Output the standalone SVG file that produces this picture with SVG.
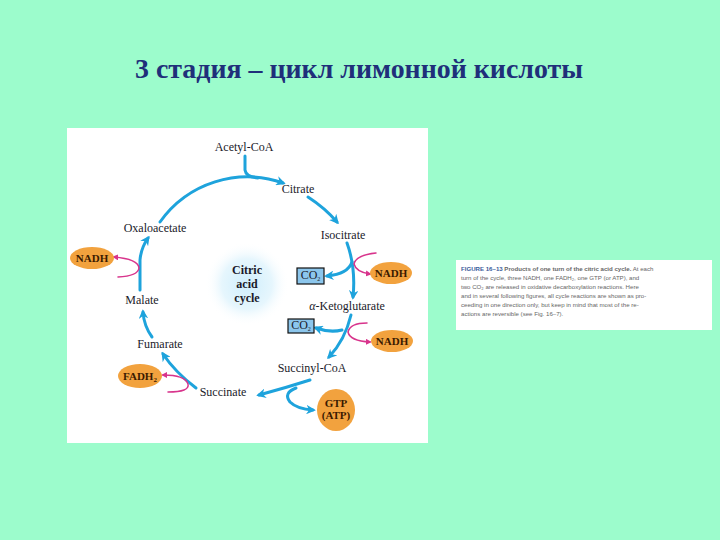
<svg xmlns="http://www.w3.org/2000/svg" width="720" height="540" viewBox="0 0 720 540">
<style>
.title{font-family:"Liberation Serif","Times New Roman",serif;font-size:27px;font-weight:bold;fill:#1f2f7a;text-anchor:middle}
.lbl{font-family:"Liberation Serif","Times New Roman",serif;font-size:12px;fill:#1a1a2a;text-anchor:middle}
.bold{font-weight:bold}
.ov{font-family:"Liberation Serif","Times New Roman",serif;font-size:11px;font-weight:bold;fill:#3a1a00;text-anchor:middle}
.cap{font-family:"Liberation Sans",Arial,sans-serif;font-size:6.1px;fill:#666}
.blue{fill:none;stroke:#1ea3dc;stroke-width:3;stroke-linecap:round;marker-end:url(#ab)}
.bluel{fill:none;stroke:#1ea3dc;stroke-width:3;stroke-linecap:round}
.pink{fill:none;stroke:#d8348c;stroke-width:1.5;stroke-linecap:round;marker-end:url(#ap)}
.orange{fill:#f2a23e}
.co2{fill:#8cc6ec;stroke:#111;stroke-width:1.2}
</style>
<defs>
<marker id="ab" viewBox="0 0 10 10" refX="7" refY="5" markerWidth="3.2" markerHeight="3.2" orient="auto" markerUnits="strokeWidth">
<path d="M0,0 L10,5 L0,10 L3,5 Z" fill="#1ea3dc"/>
</marker>
<marker id="ap" viewBox="0 0 10 10" refX="7" refY="5" markerWidth="4" markerHeight="4" orient="auto" markerUnits="strokeWidth">
<path d="M0,0 L10,5 L0,10 Z" fill="#d8348c"/>
</marker>
<radialGradient id="glow">
<stop offset="0" stop-color="#cfeefc"/>
<stop offset="0.6" stop-color="#e6f6fd"/>
<stop offset="1" stop-color="#ffffff" stop-opacity="0"/>
</radialGradient>
</defs>
<rect width="720" height="540" fill="#9cfccc"/>
<text class="title" x="359" y="78" textLength="448" lengthAdjust="spacingAndGlyphs">3 стадия – цикл лимонной кислоты</text>
<rect x="67" y="128" width="361" height="315" fill="#ffffff"/>
<g id="caption">
<rect x="456" y="260" width="256" height="70" fill="#ffffff"/>
<text class="cap" x="461" y="271"><tspan font-weight="bold" fill="#3a5a9a">FIGURE 16–13</tspan><tspan font-weight="bold"> Products of one turn of the citric acid cycle.</tspan> At each</text>
<text class="cap" x="461" y="280">turn of the cycle, three NADH, one FADH₂, one GTP (or ATP), and</text>
<text class="cap" x="461" y="289">two CO₂ are released in oxidative decarboxylation reactions. Here</text>
<text class="cap" x="461" y="298">and in several following figures, all cycle reactions are shown as pro-</text>
<text class="cap" x="461" y="307">ceeding in one direction only, but keep in mind that most of the re-</text>
<text class="cap" x="461" y="316">actions are reversible (see Fig. 16–7).</text>
</g>
<circle cx="247" cy="284" r="42" fill="url(#glow)"/>
<g id="connectors">
<path class="blue" d="M160,222 A107,107 0 0 1 283,183"/>
<path class="bluel" d="M245,156 L245,170 Q246,177 258,178"/>
<path class="blue" d="M308,197 Q325,208 337,222"/>
<path class="blue" d="M347,243 Q356,268 353,297"/>
<path class="blue" d="M352,262 Q348,274 327,276"/>
<path class="pink" d="M376,253 Q356,255 354,264 Q356,272 370,274"/>
<path class="blue" d="M351,315 Q345,340 329,357"/>
<path class="blue" d="M342,330 Q330,333 316,328"/>
<path class="pink" d="M367,323 Q350,323 348,332 Q350,341 370,342"/>
<path class="blue" d="M310,380 Q285,388 259,395"/>
<path class="blue" d="M296,388 Q283,393 290,402 Q297,409 313,410"/>
<path class="blue" d="M196,388 Q175,372 163,354"/>
<path class="pink" d="M168,392 Q190,392 188,384 Q185,375 163,375"/>
<path class="blue" d="M152,337 Q144,326 143,312"/>
<path class="blue" d="M140,290 L140,260 Q141,248 148,238"/>
<path class="pink" d="M118,277 Q138,276 139,268 Q138,259 114,257"/>
</g>
<g id="acetylcoa"><text class="lbl" x="244" y="151">Acetyl-CoA</text></g>
<g id="citrate"><text class="lbl" x="298" y="193">Citrate</text></g>
<g id="isocitrate"><text class="lbl" x="343" y="239">Isocitrate</text></g>
<g id="oxaloacetate"><text class="lbl" x="155" y="232">Oxaloacetate</text></g>
<g id="ketoglutarate"><text class="lbl" x="347" y="310"><tspan font-style="italic">α</tspan>-Ketoglutarate</text></g>
<g id="succinylcoa"><text class="lbl" x="312" y="372">Succinyl-CoA</text></g>
<g id="succinate"><text class="lbl" x="223" y="396">Succinate</text></g>
<g id="fumarate"><text class="lbl" x="160" y="348">Fumarate</text></g>
<g id="malate"><text class="lbl" x="142" y="304">Malate</text></g>
<g id="center">
<text class="lbl bold" x="247" y="274">Citric</text>
<text class="lbl bold" x="247" y="288">acid</text>
<text class="lbl bold" x="247" y="302">cycle</text>
</g>
<g id="nadh1"><ellipse class="orange" cx="92" cy="258" rx="22" ry="11"/><text class="ov" x="92" y="262">NADH</text></g>
<g id="nadh2"><ellipse class="orange" cx="391" cy="273" rx="21" ry="11"/><text class="ov" x="391" y="277">NADH</text></g>
<g id="nadh3"><ellipse class="orange" cx="392" cy="341" rx="21" ry="11"/><text class="ov" x="392" y="345">NADH</text></g>
<g id="fadh2"><ellipse class="orange" cx="140" cy="376" rx="22" ry="12"/><text class="ov" x="140" y="380">FADH<tspan font-size="7" dy="2">2</tspan></text></g>
<g id="gtp"><ellipse class="orange" cx="336" cy="410" rx="19" ry="21"/><text class="ov" x="336" y="407">GTP</text><text class="ov" x="336" y="419">(ATP)</text></g>
<g id="co2a"><rect class="co2" x="297" y="268" width="27" height="16"/><text class="lbl" x="310.5" y="279" font-size="8">CO<tspan font-size="6" dy="2">2</tspan></text></g>
<g id="co2b"><rect class="co2" x="288" y="319" width="26" height="14"/><text class="lbl" x="301" y="329" font-size="8">CO<tspan font-size="6" dy="2">2</tspan></text></g>
</svg>
